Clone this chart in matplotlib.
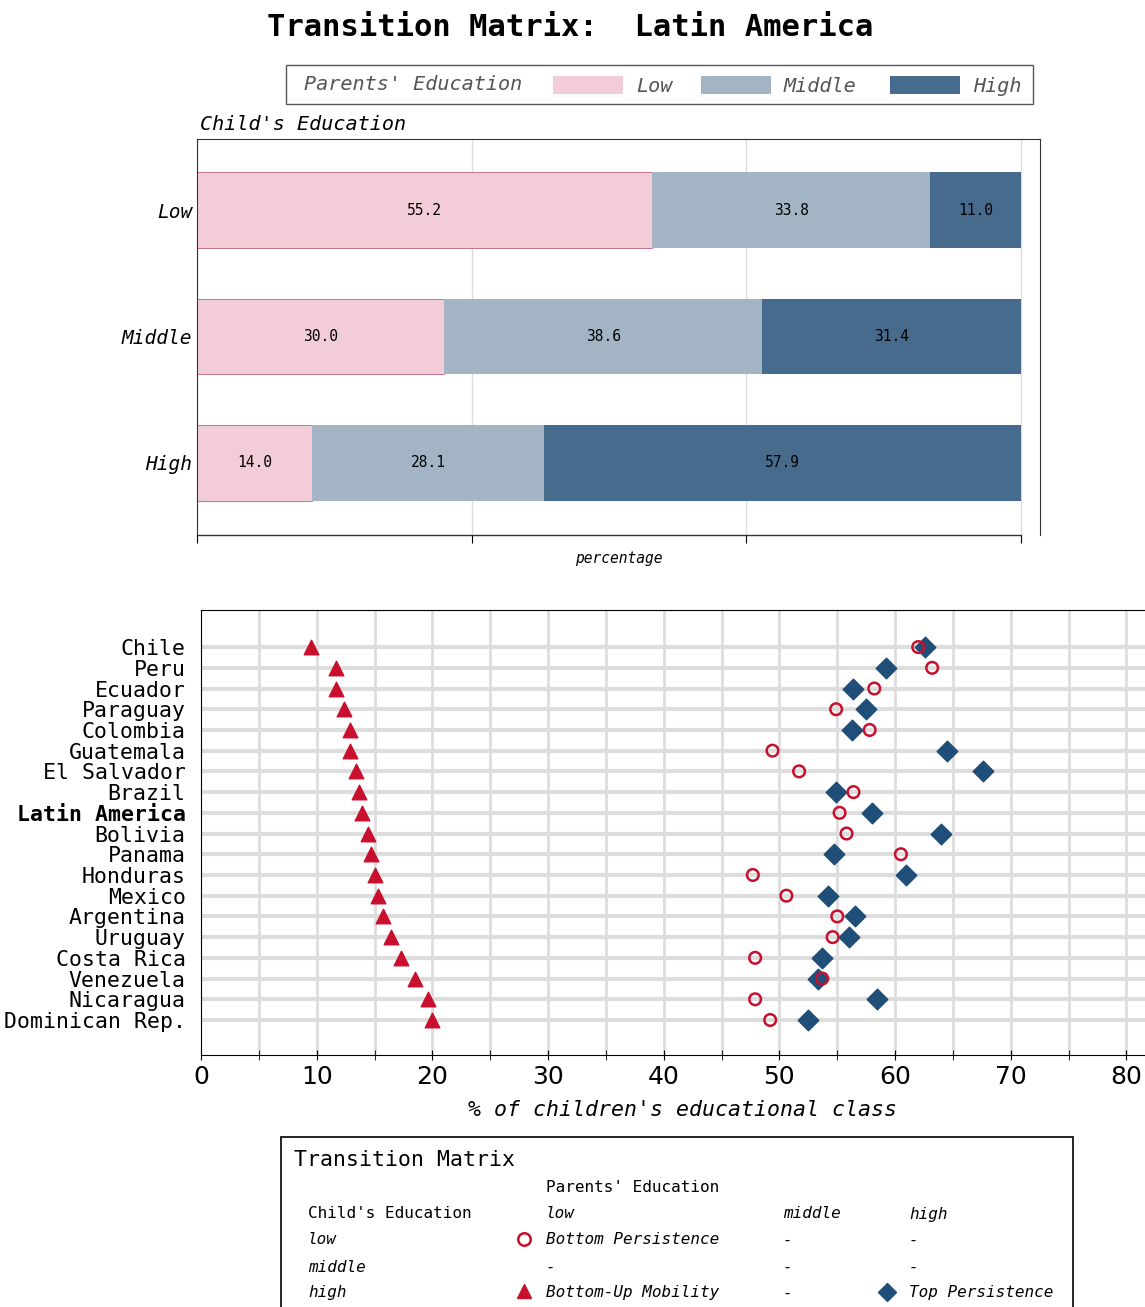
import matplotlib
matplotlib.use("Agg")
import matplotlib.pyplot as plt
from matplotlib.patches import Rectangle

W, H = 1145, 1307
MONO = "DejaVu Sans Mono"

# top chart data
child_levels = ["Low", "Middle", "High"]
share_low = [55.2, 30.0, 14.0]
share_mid = [33.8, 38.6, 28.1]
share_high = [11.0, 31.4, 57.9]
c_low, c_mid, c_high = "#f2ccd6", "#a3b4c4", "#466b8c"

# bottom chart data
countries = ["Chile", "Peru", "Ecuador", "Paraguay", "Colombia", "Guatemala",
             "El Salvador", "Brazil", "Latin America", "Bolivia", "Panama",
             "Honduras", "Mexico", "Argentina", "Uruguay", "Costa Rica",
             "Venezuela", "Nicaragua", "Dominican Rep."]
bottom_up = [9.5, 11.7, 11.7, 12.4, 12.9, 12.9, 13.4, 13.7, 13.9, 14.4, 14.7,
             15.0, 15.3, 15.7, 16.4, 17.3, 18.5, 19.6, 20.0]
bottom_pers = [62.0, 63.2, 58.2, 54.9, 57.8, 49.4, 51.7, 56.4, 55.2, 55.8, 60.5,
               47.7, 50.6, 55.0, 54.6, 47.9, 53.7, 47.9, 49.2]
top_pers = [62.6, 59.2, 56.4, 57.5, 56.3, 64.5, 67.6, 54.9, 58.0, 64.0, 54.7,
            60.9, 54.2, 56.5, 56.0, 53.7, 53.3, 58.4, 52.5]
red, navy = "#c8102e", "#1f4e79"

fig = plt.figure(figsize=(W / 100, H / 100), dpi=100)

def fx(px):
    return px / W

def fy(py):
    return 1 - py / H

fig.text(fx(570), fy(27), "Transition Matrix:  Latin America", ha="center", va="center",
         fontsize=22, fontweight="bold", family=MONO)

# legend box for top chart
fig.patches.append(Rectangle((fx(286), fy(104)), fx(1033) - fx(286), fy(65) - fy(104),
                             transform=fig.transFigure, fill=False, ec="#555555", lw=1))
fig.text(fx(304), fy(85), "Parents' Education", va="center", fontsize=14.5, style="italic",
         family=MONO, color="#555555")
for x0, c, lab in [(553, c_low, "Low"), (701, c_mid, "Middle"), (890, c_high, "High")]:
    fig.patches.append(Rectangle((fx(x0), fy(94)), fx(70), fy(76) - fy(94),
                                 transform=fig.transFigure, fc=c, ec="none"))
    fig.text(fx(x0 + 83), fy(86), lab, va="center", fontsize=14.5, style="italic",
             family=MONO, color="#555555")
fig.text(fx(200), fy(124), "Child's Education", va="center", fontsize=14.5, style="italic",
         family=MONO)

ax1 = fig.add_axes([fx(197), fy(535), fx(1040) - fx(197), fy(139) - fy(535)])
ypos = [0, 1, 2]
lefts_mid = [a for a in share_low]
lefts_high = [a + b for a, b in zip(share_low, share_mid)]
ax1.barh(ypos, share_low, height=0.6, color=c_low, edgecolor="#c06080", lw=0.6, zorder=2)
ax1.barh(ypos, share_mid, left=lefts_mid, height=0.6, color=c_mid, zorder=2)
ax1.barh(ypos, share_high, left=lefts_high, height=0.6, color=c_high, zorder=2)
for i in ypos:
    ax1.text(share_low[i] / 2, i, f"{share_low[i]:.1f}", ha="center", va="center",
             fontsize=10.5, family=MONO)
    ax1.text(lefts_mid[i] + share_mid[i] / 2, i, f"{share_mid[i]:.1f}", ha="center",
             va="center", fontsize=10.5, family=MONO)
    ax1.text(lefts_high[i] + share_high[i] / 2, i, f"{share_high[i]:.1f}", ha="center",
             va="center", fontsize=10.5, family=MONO)
ax1.set_ylim(2.571, -0.563)
ax1.set_xlim(0, 102.3)
ax1.set_yticks(ypos)
ax1.set_yticklabels(child_levels, fontsize=14, style="italic", family=MONO)
ax1.tick_params(axis="y", length=0)
ax1.set_xticks([0, 33.33, 66.67, 100])
ax1.set_xticklabels([])
ax1.tick_params(axis="x", direction="out", length=6)
ax1.xaxis.grid(True, color="#dddddd", lw=1, zorder=0)
ax1.set_xlabel("percentage", fontsize=10.5, style="italic", family=MONO, labelpad=2)
for s in ax1.spines.values():
    s.set_color("#333333")
ax1.spines["bottom"].set_visible(False)
ax1.plot([0, 100], [2.571, 2.571], color="#333333", lw=1, clip_on=False)

# bottom chart
ax2 = fig.add_axes([fx(201), fy(1055), fx(1145) - fx(201), fy(610) - fy(1055)])
yy = list(range(len(countries)))
for y in yy:
    ax2.axhline(y, color="#dddddd", lw=3, zorder=0)
for x in range(5, 81, 5):
    ax2.axvline(x, color="#dddddd", lw=2, zorder=0)
ax2.scatter(bottom_up, yy, marker="^", s=110, color=red, zorder=3)
ax2.scatter(bottom_pers, yy, marker="o", s=70, facecolors="none", edgecolors=red,
            lw=1.8, zorder=4)
ax2.scatter(top_pers, yy, marker="D", s=110, color=navy, zorder=3)
ax2.set_xlim(0, 81.6)
ax2.set_ylim(19.69, -1.79)
ax2.set_yticks(yy)
ax2.set_yticklabels(countries, fontsize=15.5, family=MONO)
for t in ax2.get_yticklabels():
    if t.get_text() == "Latin America":
        t.set_fontweight("semibold")
ax2.tick_params(axis="y", length=0, pad=11)
ax2.set_xticks(range(0, 81, 10))
ax2.set_xticks(range(5, 81, 10), minor=True)
ax2.tick_params(axis="x", labelsize=18, length=7, direction="inout")
ax2.tick_params(axis="x", which="minor", length=7, direction="inout")
ax2.set_xlabel("% of children's educational class", fontsize=15.5, style="italic",
               family=MONO, labelpad=0)
ax2.xaxis.set_label_coords(0.51, -0.1)
ax2.spines["right"].set_visible(False)

# table legend
fig.patches.append(Rectangle((fx(281), fy(1320)), fx(1073) - fx(281), fy(1137) - fy(1320),
                             transform=fig.transFigure, fill=False, ec="black", lw=1.2))
fig.text(fx(294), fy(1160), "Transition Matrix", va="center", fontsize=15.5, family=MONO)
fig.text(fx(546), fy(1188), "Parents' Education", va="center", fontsize=11.5, family=MONO)
fig.text(fx(308), fy(1214), "Child's Education", va="center", fontsize=11.5, family=MONO)
rows = [
    (1214, [(546, "low"), (783, "middle"), (909, "high")]),
    (1240, [(308, "low"), (546, "Bottom Persistence"), (783, "-"), (909, "-")]),
    (1267, [(308, "middle"), (546, "-"), (783, "-"), (909, "-")]),
    (1293, [(308, "high"), (546, "Bottom-Up Mobility"), (783, "-"), (909, "Top Persistence")]),
]
for py, items in rows:
    for px, s in items:
        fig.text(fx(px), fy(py), s, va="center", fontsize=11.5, style="italic", family=MONO)
fig.lines.append(plt.Line2D([fx(524)], [fy(1239)], marker="o", ms=9, mfc="none", mec=red,
                            mew=1.8, transform=fig.transFigure))
fig.lines.append(plt.Line2D([fx(524)], [fy(1291)], marker="^", ms=10, color=red,
                            transform=fig.transFigure))
fig.lines.append(plt.Line2D([fx(887)], [fy(1292)], marker="D", ms=9, color=navy,
                            transform=fig.transFigure))

fig.savefig("out.png", dpi=100)
